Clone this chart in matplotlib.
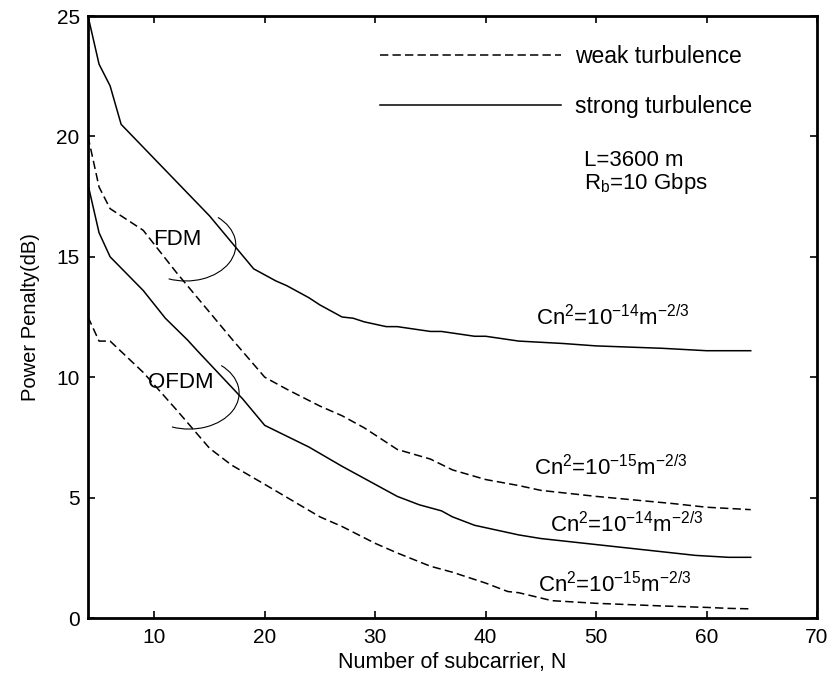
import numpy as np
import matplotlib
matplotlib.use('Agg')
import matplotlib.pyplot as plt
from matplotlib.patches import Arc
from matplotlib.lines import Line2D

plt.rcParams['font.family'] = ['Liberation Sans', 'DejaVu Sans']
plt.rcParams['mathtext.fontset'] = 'custom'
plt.rcParams['mathtext.rm'] = 'Liberation Sans'
plt.rcParams['lines.scale_dashes'] = False

# FDM, strong turbulence (Cn^2 = 1e-14)
fdm_strong_N = [4, 5, 6, 7, 11, 15, 19, 21, 22, 24, 25, 27, 28, 29, 31, 32, 35, 36, 39, 40, 43, 47, 50, 56, 60, 64]
fdm_strong = [25, 23, 22.1, 20.5, 18.6, 16.7, 14.5, 14.0, 13.8, 13.3, 13.0, 12.5, 12.45, 12.3, 12.1, 12.1,
              11.9, 11.9, 11.7, 11.7, 11.5, 11.4, 11.3, 11.2, 11.1, 11.1]

# FDM, weak turbulence (Cn^2 = 1e-15)
fdm_weak_N = [4, 5, 6, 9, 12, 17, 20, 22, 25, 27, 29, 32, 35, 37, 40, 43, 45, 50, 57, 60, 64]
fdm_weak = [20.0, 17.9, 17.0, 16.1, 14.35, 11.6, 10.0, 9.5, 8.8, 8.4, 7.9, 7.0, 6.6, 6.15, 5.75, 5.5,
            5.3, 5.05, 4.75, 4.6, 4.5]

# OFDM, strong turbulence (Cn^2 = 1e-14)
ofdm_strong_N = [4, 5, 6, 9, 11, 13, 14, 18, 20, 24, 27, 30, 32, 34, 36, 37, 39, 41, 43, 45, 50, 56, 59, 62, 64]
ofdm_strong = [18.0, 16.0, 15.0, 13.6, 12.45, 11.55, 11.05, 9.1, 8.0, 7.1, 6.3, 5.55, 5.05, 4.7, 4.45,
               4.2, 3.85, 3.65, 3.45, 3.3, 3.05, 2.75, 2.6, 2.52, 2.52]

# OFDM, weak turbulence (Cn^2 = 1e-15)
ofdm_weak_N = [4, 5, 6, 9, 12, 15, 17, 20, 25, 27, 30, 32, 35, 37, 40, 42, 43, 46, 50, 56, 60, 62, 64]
ofdm_weak = [12.5, 11.5, 11.5, 10.2, 8.65, 7.05, 6.35, 5.55, 4.2, 3.8, 3.1, 2.7, 2.15, 1.9, 1.45, 1.1,
             1.05, 0.72, 0.61, 0.5, 0.44, 0.4, 0.38]

x_ticks = [10, 20, 30, 40, 50, 60, 70]
y_ticks = [0, 5, 10, 15, 20, 25]

fig = plt.figure(figsize=(8.32, 6.75), dpi=100)
ax = fig.add_axes([88/832, 1 - 618/675, (817 - 88)/832, (618 - 16)/675])

dash = (0, (6, 3))
lw = 1.1

ax.plot(fdm_strong_N, fdm_strong, color='k', lw=lw)
ax.plot(fdm_weak_N, fdm_weak, color='k', lw=lw, ls=dash)
ax.plot(ofdm_strong_N, ofdm_strong, color='k', lw=lw)
ax.plot(ofdm_weak_N, ofdm_weak, color='k', lw=lw, ls=dash)

handles = [Line2D([], [], color='k', lw=lw, ls=dash),
           Line2D([], [], color='k', lw=lw)]
ax.legend(handles, ['weak turbulence', 'strong turbulence'], loc='upper left',
          bbox_to_anchor=(0.4005, 0.951), frameon=False, fontsize=16.5,
          handlelength=7.9, handletextpad=0.6, labelspacing=1.15,
          borderpad=0, borderaxespad=0)


def ellipse_arc(cx, cy, w, h, t1, t2):
    # angles given as ellipse parameter, converted to what Arc expects
    def geo(t):
        t = np.deg2rad(t)
        return np.rad2deg(np.arctan2(h * np.sin(t), w * np.cos(t)))
    return Arc((cx, cy), w, h, theta1=geo(t1), theta2=geo(t2), color='k', lw=0.8)


ax.add_patch(ellipse_arc(12.85, 15.49, 9.06, 2.99, 250, 50))
ax.add_patch(ellipse_arc(13.15, 9.34, 9.06, 2.99, 250, 50))

ax.text(9.9, 15.7, 'FDM', fontsize=16, va='center')
ax.text(9.4, 9.78, 'OFDM', fontsize=16, va='center')

ax.text(48.9, 19.45, 'L=3600 m\nR$_\\mathregular{b}$=10 Gbps', fontsize=16,
        va='top', linespacing=1.0)

ax.text(44.6, 12.17, r'Cn$^\mathregular{2}$=10$^\mathregular{-14}$m$^\mathregular{-2/3}$', fontsize=16, va='baseline')
ax.text(44.4, 5.94, r'Cn$^\mathregular{2}$=10$^\mathregular{-15}$m$^\mathregular{-2/3}$', fontsize=16, va='baseline')
ax.text(45.8, 3.57, r'Cn$^\mathregular{2}$=10$^\mathregular{-14}$m$^\mathregular{-2/3}$', fontsize=16, va='baseline')
ax.text(44.7, 1.08, r'Cn$^\mathregular{2}$=10$^\mathregular{-15}$m$^\mathregular{-2/3}$', fontsize=16, va='baseline')

ax.set_xlim(4, 70)
ax.set_ylim(0, 25)
ax.set_xticks(x_ticks)
ax.set_yticks(y_ticks)
ax.tick_params(direction='in', top=True, right=True, length=5, width=1.2, labelsize=15)
ax.tick_params(axis='x', pad=7)
ax.tick_params(axis='y', pad=6)
for s in ax.spines.values():
    s.set_linewidth(2)

ax.set_xlabel('Number of subcarrier, N', fontsize=15.5, labelpad=4)
ax.set_ylabel('Power Penalty(dB)', fontsize=14.5, labelpad=12)

fig.savefig('out.png', dpi=100)
